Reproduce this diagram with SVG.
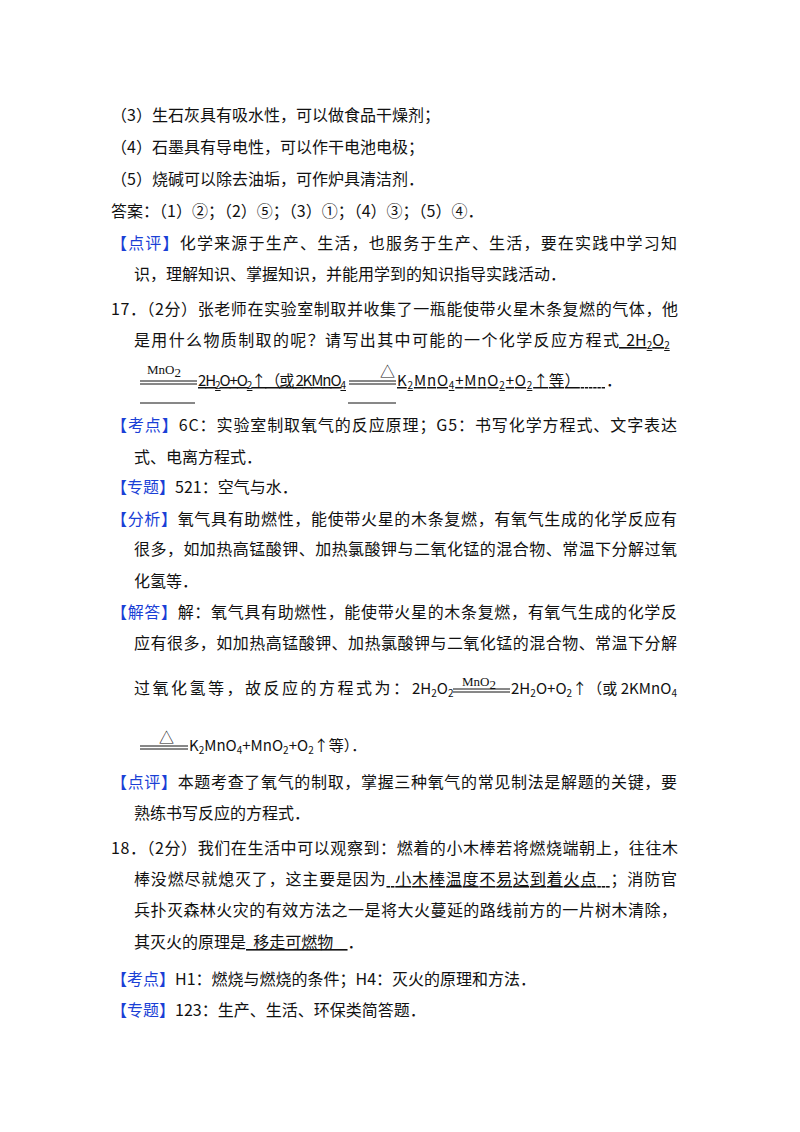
<svg xmlns="http://www.w3.org/2000/svg" width="800" height="1132" viewBox="0 0 800 1132">
<style>
text{font-family:"Noto Sans CJK SC","Liberation Sans",sans-serif;font-size:16px;fill:#111}
.b{fill:#1a3fd6}
.s{font-size:10px}
.m{font-family:"Liberation Serif",serif;font-size:13px}
line{stroke:#111;stroke-width:1}
</style>
<rect width="800" height="1132" fill="#fff"/>
<g id="text">
<text x="111" y="121">（3）生石灰具有吸水性，可以做食品干燥剂；</text>
<text x="111" y="153">（4）石墨具有导电性，可以作干电池电极；</text>
<text x="111" y="185">（5）烧碱可以除去油垢，可作炉具清洁剂．</text>
<text x="111" y="217">答案：（1）②；（2）⑤；（3）①；（4）③；（5）④．</text>
<text x="111" y="249" textLength="566"><tspan class="b">【点评】</tspan>化学来源于生产、生活，也服务于生产、生活，要在实践中学习知</text>
<text x="134" y="280">识，理解知识、掌握知识，并能用学到的知识指导实践活动．</text>
<text x="111" y="315" textLength="567">17．（2分）张老师在实验室制取并收集了一瓶能使带火星木条复燃的气体，他</text>
<text x="134" y="346" textLength="485">是用什么物质制取的呢？请写出其中可能的一个化学反应方程式</text>
<text x="619" y="346" text-decoration="underline">&#160;&#160;2H<tspan class="s" dy="3">2</tspan><tspan dy="-3">O</tspan><tspan class="s" dy="3">2</tspan></text>
<text class="m" x="147" y="374">MnO<tspan dy="3">2</tspan></text>
<line x1="140" y1="381" x2="197" y2="381"/><line x1="140" y1="384" x2="197" y2="384"/>
<line x1="140" y1="403" x2="195" y2="403"/>
<text x="198" y="386" text-decoration="underline" textLength="148" style="font-size:15px">2H<tspan class="s" dy="3">2</tspan><tspan dy="-3">O+O</tspan><tspan class="s" dy="3">2</tspan><tspan dy="-3">↑（或 2KMnO</tspan><tspan class="s" dy="3">4</tspan></text>
<text x="380" y="377" style="font-size:15px">△</text>
<line x1="349" y1="381" x2="396" y2="381"/><line x1="349" y1="384" x2="396" y2="384"/>
<line x1="348" y1="403" x2="396" y2="403"/>
<text x="397" y="386" text-decoration="underline" textLength="208" style="font-size:15px">K<tspan class="s" dy="3">2</tspan><tspan dy="-3">MnO</tspan><tspan class="s" dy="3">4</tspan><tspan dy="-3">+MnO</tspan><tspan class="s" dy="3">2</tspan><tspan dy="-3">+O</tspan><tspan class="s" dy="3">2</tspan><tspan dy="-3">↑等）&#160;&#160;&#160;&#160;&#160;&#160;</tspan></text>
<text x="606" y="386">．</text>
<text x="111" y="431" textLength="566"><tspan class="b">【考点】</tspan>6C：实验室制取氧气的反应原理；G5：书写化学方程式、文字表达</text>
<text x="134" y="463">式、电离方程式．</text>
<text x="111" y="493"><tspan class="b">【专题】</tspan>521：空气与水．</text>
<text x="111" y="525" textLength="566"><tspan class="b">【分析】</tspan>氧气具有助燃性，能使带火星的木条复燃，有氧气生成的化学反应有</text>
<text x="134" y="555" textLength="543">很多，如加热高锰酸钾、加热氯酸钾与二氧化锰的混合物、常温下分解过氧</text>
<text x="134" y="587">化氢等．</text>
<text x="111" y="618" textLength="566"><tspan class="b">【解答】</tspan>解：氧气具有助燃性，能使带火星的木条复燃，有氧气生成的化学反</text>
<text x="134" y="649" textLength="543">应有很多，如加热高锰酸钾、加热氯酸钾与二氧化锰的混合物、常温下分解</text>
<text x="134" y="694" textLength="275">过氧化氢等，故反应的方程式为：</text>
<text x="412" y="694" style="font-size:15px">2H<tspan class="s" dy="3">2</tspan><tspan dy="-3">O</tspan><tspan class="s" dy="3">2</tspan></text>
<text class="m" x="462" y="686">MnO<tspan dy="3">2</tspan></text>
<line x1="453" y1="689" x2="510" y2="689"/><line x1="453" y1="692" x2="510" y2="692"/>
<text x="511" y="694" textLength="166" style="font-size:15px">2H<tspan class="s" dy="3">2</tspan><tspan dy="-3">O+O</tspan><tspan class="s" dy="3">2</tspan><tspan dy="-3">↑（或 2KMnO</tspan><tspan class="s" dy="3">4</tspan></text>
<text x="159" y="743" style="font-size:15px">△</text>
<line x1="140" y1="746" x2="188" y2="746"/><line x1="140" y1="749" x2="188" y2="749"/>
<text x="189" y="751" style="font-size:15px">K<tspan class="s" dy="3">2</tspan><tspan dy="-3">MnO</tspan><tspan class="s" dy="3">4</tspan><tspan dy="-3">+MnO</tspan><tspan class="s" dy="3">2</tspan><tspan dy="-3">+O</tspan><tspan class="s" dy="3">2</tspan><tspan dy="-3">↑等）．</tspan></text>
<text x="111" y="788" textLength="566"><tspan class="b">【点评】</tspan>本题考查了氧气的制取，掌握三种氧气的常见制法是解题的关键，要</text>
<text x="134" y="819">熟练书写反应的方程式．</text>
<text x="111" y="854" textLength="567">18．（2分）我们在生活中可以观察到：燃着的小木棒若将燃烧端朝上，往往木</text>
<text x="134" y="885" textLength="543">棒没燃尽就熄灭了，这主要是因为<tspan text-decoration="underline">&#160;&#160;小木棒温度不易达到着火点&#160;&#160;&#160;</tspan>；消防官</text>
<text x="134" y="916" textLength="543">兵扑灭森林火灾的有效方法之一是将大火蔓延的路线前方的一片树木清除，</text>
<text x="134" y="948">其灭火的原理是<tspan text-decoration="underline">&#160;&#160;移走可燃物&#160;&#160;&#160;&#160;</tspan>．</text>
<text x="111" y="985"><tspan class="b">【考点】</tspan>H1：燃烧与燃烧的条件；H4：灭火的原理和方法．</text>
<text x="111" y="1016"><tspan class="b">【专题】</tspan>123：生产、生活、环保类简答题．</text>
</g>
</svg>
